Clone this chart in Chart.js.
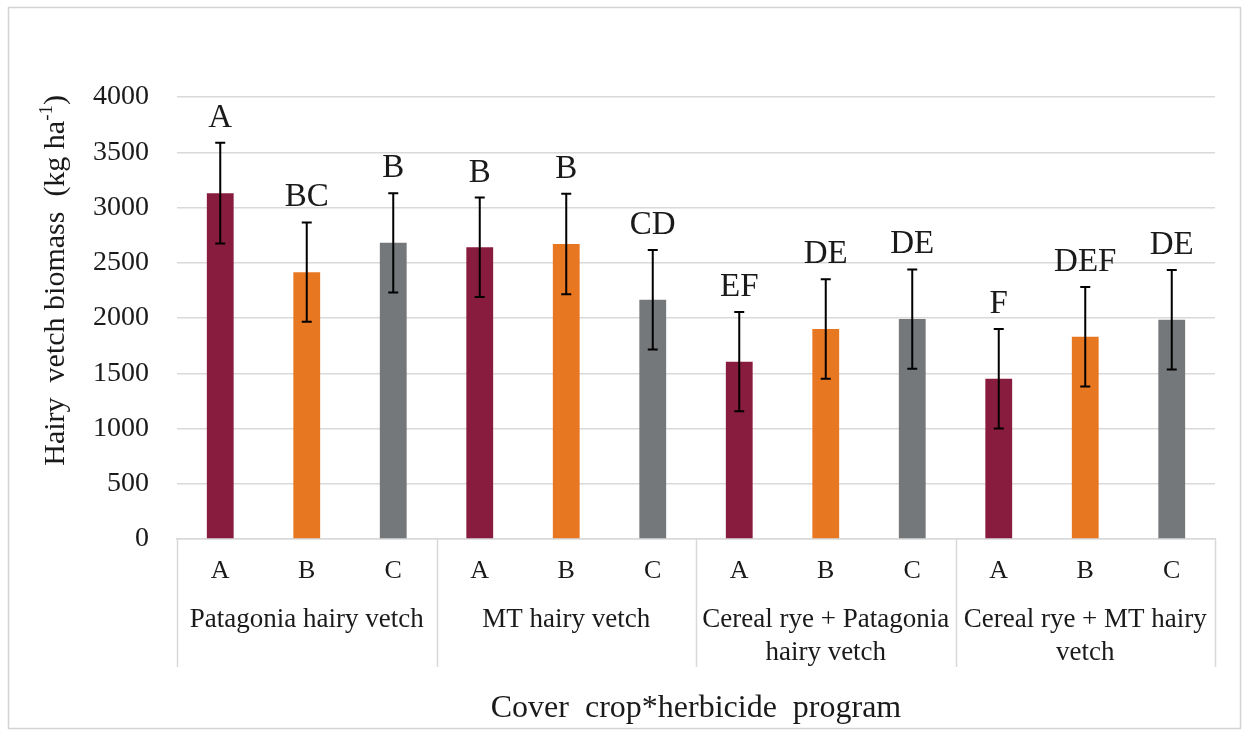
<!DOCTYPE html>
<html>
<head>
<meta charset="utf-8">
<script src="https://cdn.jsdelivr.net/npm/chart.js@4.4.0/dist/chart.umd.min.js"></script>
<style>
    html, body { margin: 0 ; padding: 0 ; background: #fff ; }
    #wrap { position: relative ; width: 1248px ; height: 736px ; }
</style>
</head>
<body>
<div id="wrap"><canvas id="chart-biomass" width="1248" height="736"></canvas></div>
<script>
'use strict'

// --------------------------------------------
// DONNEES DU GRAPHIQUE
// --------------------------------------------
const GROUPS   = ['Patagonia hairy vetch', 'MT hairy vetch', ['Cereal rye + Patagonia', 'hairy vetch'], ['Cereal rye + MT hairy', 'vetch']] ;
const PROGRAMS = ['A', 'B', 'C'] ;
const BIOMASS  = [3130, 2415, 2680, 2640, 2670, 2165, 1605, 1900, 1990, 1450, 1830, 1985] ;
const ERRORS   = [455, 450, 450, 450, 455, 450, 450, 450, 450, 450, 450, 450] ;
const LETTERS  = ['A', 'BC', 'B', 'B', 'B', 'CD', 'EF', 'DE', 'DE', 'F', 'DEF', 'DE'] ;
const Y_TICKS  = [0, 500, 1000, 1500, 2000, 2500, 3000, 3500, 4000] ;

const Y_TITLE  = ['Hairy  vetch biomass  (kg ha', '-1', ')'] ;
const X_TITLE  = 'Cover  crop*herbicide  program' ;

const PROGRAM_COLORS = ['#881c3e', '#e87722', '#75787b'] ;
const FONT = 'Liberation Serif' ;
const TEXT = '#1a1a1a' ;
const GRID = '#d9d9d9' ;

const labels = GROUPS.flatMap((g, gi) => PROGRAMS.map(p => `${gi}-${p}`)) ;


// --------------------------------------------
// PLUGIN : cadre, barres d'erreur, lettres, séparateurs, titre Y
// --------------------------------------------
const decorPlugin = {
    id: 'decor',
    beforeDraw(chart) {
        const c = chart.ctx ;
        c.save() ;
        c.strokeStyle = '#d4d4d4' ;
        c.lineWidth = 1.5 ;
        c.strokeRect(8.5, 7.5, chart.width - 16, chart.height - 15) ;
        c.restore() ;
    },
    afterDatasetsDraw(chart) {
        const c = chart.ctx ;
        const y = chart.scales.y ;
        const meta = chart.getDatasetMeta(0) ;
        c.save() ;
        c.strokeStyle = '#000' ;
        c.lineWidth = 2 ;
        c.fillStyle = TEXT ;
        c.font = `33px "${FONT}"` ;
        c.textAlign = 'center' ;
        c.textBaseline = 'alphabetic' ;
        meta.data.forEach((bar, i) => {
            const top = y.getPixelForValue(BIOMASS[i] + ERRORS[i]) ;
            const bot = y.getPixelForValue(BIOMASS[i] - ERRORS[i]) ;
            c.beginPath() ;
            c.moveTo(bar.x, top) ; c.lineTo(bar.x, bot) ;
            c.moveTo(bar.x - 5, top) ; c.lineTo(bar.x + 5, top) ;
            c.moveTo(bar.x - 5, bot) ; c.lineTo(bar.x + 5, bot) ;
            c.stroke() ;
            c.fillText(LETTERS[i], bar.x, top - 16) ;
        }) ;
        c.restore() ;
    },
    afterDraw(chart) {
        const c = chart.ctx ;
        const x = chart.scales.x ;
        const x2 = chart.scales.x2 ;
        const area = chart.chartArea ;
        const yEnd = x2.top + 77 ;
        c.save() ;
        c.strokeStyle = GRID ;
        c.lineWidth = 1.5 ;
        for (let k = 0 ; k <= GROUPS.length ; k++) {
            const px = Math.round(x.getPixelForValue(k * PROGRAMS.length - 0.5)) + 0.5 ;
            c.beginPath() ;
            c.moveTo(px, area.bottom) ; c.lineTo(px, yEnd) ;
            c.stroke() ;
        }
        c.restore() ;

        // titre Y avec exposant
        const big = `30px "${FONT}"` ;
        const small = `19px "${FONT}"` ;
        c.save() ;
        c.fillStyle = TEXT ;
        c.textBaseline = 'middle' ;
        c.textAlign = 'left' ;
        c.font = big ;
        const w0 = c.measureText(Y_TITLE[0]).width ;
        const w2 = c.measureText(Y_TITLE[2]).width ;
        c.font = small ;
        const w1 = c.measureText(Y_TITLE[1]).width ;
        const total = w0 + w1 + w2 ;
        c.translate(56, area.top - 2 + total) ;
        c.rotate(-Math.PI / 2) ;
        c.font = big ;
        c.fillText(Y_TITLE[0], 0, 0) ;
        c.font = small ;
        c.fillText(Y_TITLE[1], w0, -9) ;
        c.font = big ;
        c.fillText(Y_TITLE[2], w0 + w1, 0) ;
        c.restore() ;
    }
} ;


// --------------------------------------------
// GRAPHIQUE BAR : biomasse de vesce velue
// --------------------------------------------
function renderChartBiomass() {
    const ctx = document.getElementById('chart-biomass') ;
    if (!ctx) return ;

    new Chart(ctx, {
        type: 'bar',
        data: {
            labels,
            datasets: [{
                data: BIOMASS,
                backgroundColor: labels.map((l, i) => PROGRAM_COLORS[i % PROGRAMS.length]),
                borderWidth: 0,
                barPercentage: 0.31,
                categoryPercentage: 1,
            }]
        },
        options: {
            responsive: false,
            animation: false,
            layout: { padding: { left: 20, right: 33, top: 97, bottom: 8 } },
            plugins: {
                legend:  { display: false },
                tooltip: { enabled: false },
            },
            scales: {
                x: {
                    position: 'bottom',
                    grid:   { display: false, drawTicks: false },
                    border: { display: true, color: GRID, width: 1.5 },
                    ticks:  {
                        color: TEXT,
                        font: { family: FONT, size: 26 },
                        padding: 17,
                        callback: (v, i) => PROGRAMS[i % PROGRAMS.length],
                    },
                    afterFit: s => { s.height = 51 ; },
                },
                x2: {
                    type: 'category',
                    position: 'bottom',
                    labels: GROUPS,
                    offset: true,
                    grid:   { display: false, drawTicks: false },
                    border: { display: false },
                    ticks:  {
                        color: TEXT,
                        font: { family: FONT, size: 27, lineHeight: 1.2 },
                        padding: 14,
                        maxRotation: 0,
                        autoSkip: false,
                    },
                    title: {
                        display: true,
                        text: X_TITLE,
                        color: TEXT,
                        font: { family: FONT, size: 32 },
                        padding: { top: 0, bottom: 0 },
                    },
                    afterFit: s => { s.height = 138 ; },
                },
                y: {
                    min: 0,
                    max: 4000,
                    afterBuildTicks: s => { s.ticks = Y_TICKS.map(v => ({ value: v })) ; },
                    grid:   { color: GRID, lineWidth: 1.5, drawTicks: false },
                    border: { display: false },
                    ticks:  {
                        color: TEXT,
                        font: { family: FONT, size: 28 },
                        padding: 28,
                        callback: v => String(v),
                    },
                    afterFit: s => { s.width = 157 ; },
                }
            }
        },
        plugins: [decorPlugin]
    }) ;
}

renderChartBiomass() ;
</script>
</body>
</html>
